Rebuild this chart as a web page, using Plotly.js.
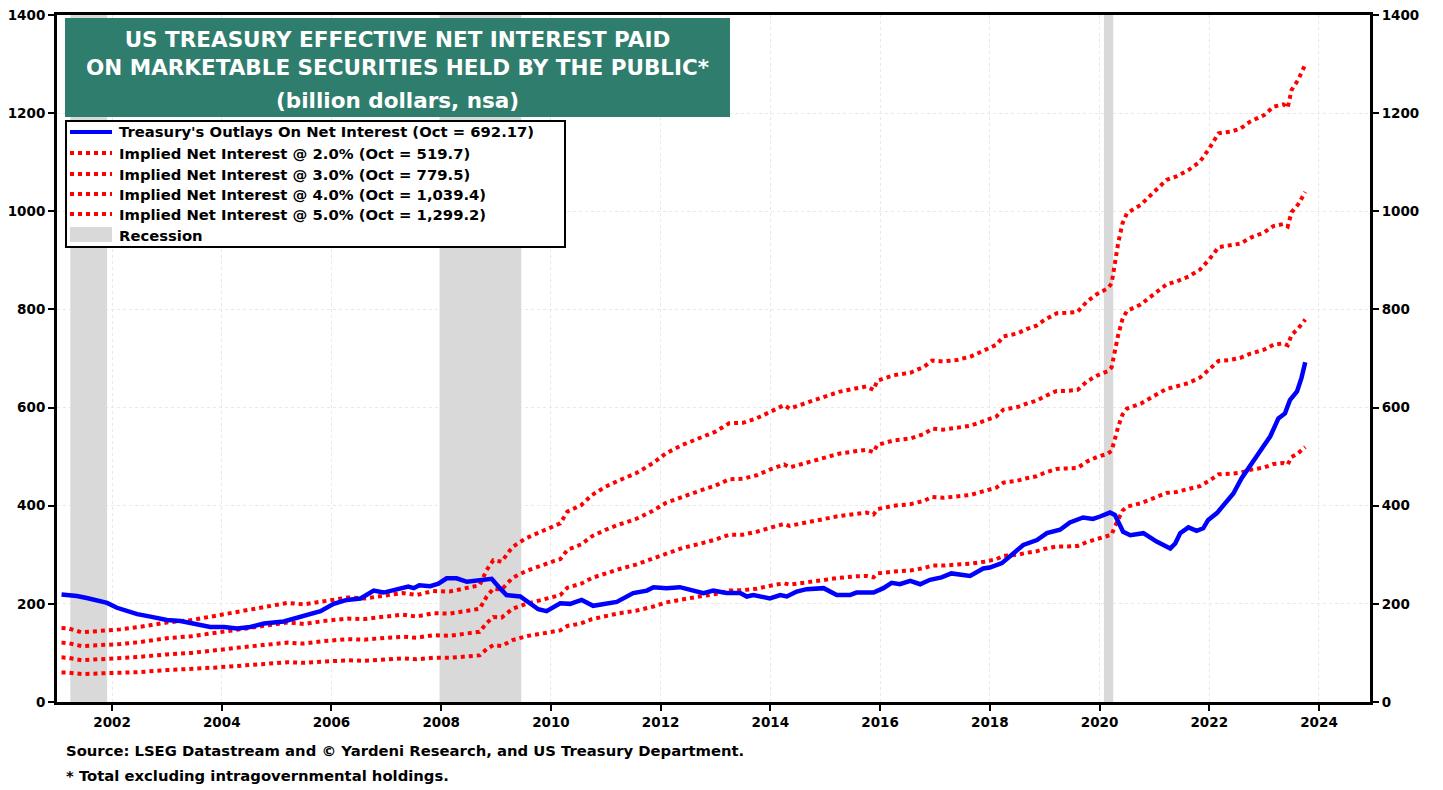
<!DOCTYPE html>
<html>
<head>
<meta charset="utf-8">
<script src="https://cdn.plot.ly/plotly-3.0.1.min.js"></script>
<style>
  html, body { margin: 0; padding: 0; background: #ffffff; }
  #chart { width: 1443px; height: 790px; }
</style>
</head>
<body>
<div id="chart"></div>
<script>
// ---- Data (x = decimal year) ----
const blueDates = [2001.08,2001.2,2001.36,2001.54,2001.75,2001.91,2002.09,2002.3,2002.46,2002.7,2003.0,2003.25,2003.49,2003.79,2004.04,2004.28,2004.52,2004.77,2005.13,2005.43,2005.8,2006.04,2006.28,2006.53,2006.77,2006.95,2007.2,2007.3,2007.4,2007.5,2007.6,2007.8,2007.95,2008.1,2008.28,2008.47,2008.71,2008.92,2009.07,2009.19,2009.44,2009.62,2009.77,2009.92,2010.17,2010.35,2010.56,2010.77,2010.96,2011.2,2011.5,2011.75,2011.87,2012.11,2012.35,2012.6,2012.78,2012.96,2013.2,2013.45,2013.57,2013.69,2013.99,2014.18,2014.3,2014.48,2014.66,2014.97,2015.21,2015.45,2015.57,2015.88,2016.06,2016.21,2016.36,2016.55,2016.73,2016.91,2017.12,2017.3,2017.49,2017.64,2017.88,2018.0,2018.22,2018.43,2018.61,2018.86,2019.04,2019.28,2019.46,2019.7,2019.88,2020.01,2020.19,2020.28,2020.43,2020.56,2020.8,2021.04,2021.16,2021.29,2021.38,2021.47,2021.62,2021.77,2021.89,2021.98,2022.14,2022.32,2022.44,2022.59,2022.74,2022.93,2023.11,2023.26,2023.38,2023.47,2023.6,2023.68,2023.75];
const outlays = [219,218,216,212,207,202,192,185,179,174,167,165,160,153,153,150,153,160,164,173,185,200,208,211,227,223,230,231,235,232,238,236,241,252,252,245,249,251,232,218,215,201,189,185,201,200,208,196,200,204,222,227,234,232,234,228,222,227,222,222,215,218,211,218,215,225,230,232,218,218,223,223,232,243,240,247,240,249,254,262,260,257,272,274,283,303,320,330,344,351,366,376,373,378,386,381,347,340,344,327,320,313,323,344,356,349,354,371,385,408,425,456,480,514,541,578,588,615,633,660,692.17];

const redDates = [2001.08,2001.2,2001.45,2001.85,2002.15,2002.5,2003.0,2003.45,2003.85,2004.1,2004.4,2004.75,2005.2,2005.5,2005.85,2006.3,2006.6,2006.9,2007.3,2007.55,2007.85,2008.15,2008.45,2008.7,2008.83,2008.95,2009.1,2009.3,2009.55,2009.8,2010.05,2010.17,2010.3,2010.55,2010.75,2011.0,2011.25,2011.55,2011.85,2012.1,2012.4,2012.7,2013.0,2013.25,2013.5,2013.75,2014.0,2014.25,2014.35,2014.65,2014.95,2015.25,2015.55,2015.75,2015.88,2015.95,2016.25,2016.55,2016.8,2016.95,2017.15,2017.4,2017.65,2017.9,2018.12,2018.25,2018.5,2018.67,2018.85,2019.0,2019.22,2019.4,2019.6,2019.77,2019.95,2020.15,2020.22,2020.28,2020.34,2020.42,2020.5,2020.75,2021.0,2021.22,2021.4,2021.62,2021.83,2022.0,2022.17,2022.38,2022.56,2022.75,2023.0,2023.17,2023.35,2023.43,2023.5,2023.62,2023.75];
const implied2 = [60,60,57,58,59,61,65,67,70,72,74,77,81,80,82,85,84,86,89,87,90,90,93,95,108,116,114,126,134,139,144,146,155,160,169,176,181,186,194,203,210,215,220,227,228,231,237,242,239,244,249,253,256,257,254,262,266,268,273,278,278,279,282,286,291,298,300,304,307,312,317,317,318,326,332,337,341,358,374,390,398,405,416,426,428,434,440,451,464,465,467,473,478,485,487,484,499,507,519.7];
const implied3 = [91,90,85,87,89,92,97,100,105,109,112,116,121,119,124,128,127,130,133,131,136,135,139,143,161,173,172,190,200,208,215,218,233,241,253,263,271,280,292,304,314,322,331,341,341,347,355,363,359,366,373,379,383,386,382,393,400,403,410,418,416,418,422,430,437,447,451,456,460,467,475,476,477,490,499,506,512,536,561,586,598,608,624,638,643,650,661,677,695,697,701,710,718,728,731,727,748,761,779.5];
const implied4 = [121,120,114,116,118,122,130,134,140,145,149,154,162,159,165,170,169,173,178,174,181,180,186,190,215,231,229,253,267,278,287,291,310,321,338,351,362,373,389,406,419,430,441,454,455,462,474,484,478,488,498,506,511,514,509,524,533,537,546,557,555,558,563,573,582,596,601,608,614,623,634,634,636,653,665,674,682,715,748,781,797,810,832,851,857,867,881,902,927,930,934,946,957,970,974,969,998,1014,1039.4];
const implied5 = [151,150,142,145,148,153,162,167,175,181,186,193,202,199,206,213,211,216,222,218,226,225,232,238,269,289,286,316,334,347,359,364,388,401,422,439,452,466,486,507,524,537,551,568,569,578,592,605,598,610,622,632,639,643,636,655,666,671,683,696,694,697,704,716,728,745,751,760,767,779,792,793,795,816,831,843,853,894,935,976,996,1013,1040,1064,1071,1084,1101,1128,1159,1162,1168,1183,1196,1213,1218,1211,1247,1268,1299.2];

const recessionStart = [2001.24, 2007.97, 2020.08];
const recessionEnd   = [2001.91, 2009.46, 2020.25];

const yTicks = [0,200,400,600,800,1000,1200,1400];
const xTicks = [2002,2004,2006,2008,2010,2012,2014,2016,2018,2020,2022,2024];

const seriesNames = [
  "Treasury's Outlays On Net Interest (Oct = 692.17)",
  "Implied Net Interest @ 2.0% (Oct = 519.7)",
  "Implied Net Interest @ 3.0% (Oct = 779.5)",
  "Implied Net Interest @ 4.0% (Oct = 1,039.4)",
  "Implied Net Interest @ 5.0% (Oct = 1,299.2)",
  "Recession"
];
const titleLines = [
  "US TREASURY EFFECTIVE NET INTEREST PAID",
  "ON MARKETABLE SECURITIES HELD BY THE PUBLIC*",
  "(billion dollars, nsa)"
];
const footLines = [
  "Source: LSEG Datastream and \u00A9 Yardeni Research, and US Treasury Department.",
  "* Total excluding intragovernmental holdings."
];

// ---- Styles ----
const FONT = "DejaVu Sans, Verdana, Arial, sans-serif";
const BLUE = '#0000ff', RED = '#ff0000', REC = '#d9d9d9', GRID = '#e8e8e8';
const Y_MAX = 1400;

// ---- Build traces ----
const recX = [], recY = [];
recessionStart.forEach((s, i) => {
  recX.push(s, s, recessionEnd[i], recessionEnd[i], s, null);
  recY.push(0, Y_MAX, Y_MAX, 0, 0, null);
});

const traces = [
  { x: recX, y: recY, type: 'scatter', mode: 'lines', fill: 'toself',
    fillcolor: REC, line: { width: 0, color: REC }, name: seriesNames[5], hoverinfo: 'skip' },
  { x: redDates, y: implied2, type: 'scatter', mode: 'lines', name: seriesNames[1],
    line: { color: RED, width: 4, dash: 'dot' } },
  { x: redDates, y: implied3, type: 'scatter', mode: 'lines', name: seriesNames[2],
    line: { color: RED, width: 4, dash: 'dot' } },
  { x: redDates, y: implied4, type: 'scatter', mode: 'lines', name: seriesNames[3],
    line: { color: RED, width: 4, dash: 'dot' } },
  { x: redDates, y: implied5, type: 'scatter', mode: 'lines', name: seriesNames[4],
    line: { color: RED, width: 4, dash: 'dot' } },
  { x: blueDates, y: outlays, type: 'scatter', mode: 'lines', name: seriesNames[0],
    line: { color: BLUE, width: 4.5 } },
  { x: blueDates, y: outlays, type: 'scatter', mode: 'lines', yaxis: 'y2',
    line: { width: 0, color: 'rgba(0,0,0,0)' }, showlegend: false, hoverinfo: 'skip' }
];

// plot area pixel box: left 57, right 1370, top 15, bottom 702
const W = 1443, H = 790, L = 57, R = 73, T = 15, B = 88;
const pw = W - L - R, ph = H - T - B;
const px2paperX = p => (p - L) / pw;
const py2paperY = p => (H - B - p) / ph;

const axisFont = { family: FONT, size: 13.5, color: '#000000', weight: 'bold' };
const legendFont = { family: FONT, size: 14.8, color: '#000000', weight: 'bold' };
const titleFont = { family: FONT, size: 21.5, color: '#ffffff', weight: 'bold' };

// ---- Title box, legend box (drawn as shapes + text) ----
const legendRows = [132, 153, 174, 194, 214, 235];
const legendStyles = [
  { color: BLUE, dash: 'solid' }, { color: RED, dash: 'dot' }, { color: RED, dash: 'dot' },
  { color: RED, dash: 'dot' }, { color: RED, dash: 'dot' }, null
];
const shapes = [
  { type: 'rect', xref: 'paper', yref: 'paper',
    x0: px2paperX(65), x1: px2paperX(730), y0: py2paperY(18), y1: py2paperY(117),
    fillcolor: '#2f7d6d', line: { width: 0 }, layer: 'above' },
  { type: 'rect', xref: 'paper', yref: 'paper',
    x0: px2paperX(66), x1: px2paperX(565), y0: py2paperY(121), y1: py2paperY(247),
    fillcolor: '#ffffff', line: { color: '#000000', width: 2 }, layer: 'above' }
];
const annotations = [
  { text: titleLines[2], xref: 'paper', yref: 'paper', x: px2paperX(397.5),
    y: py2paperY(100), xanchor: 'center', yanchor: 'middle', showarrow: false, font: titleFont }
];
legendRows.forEach((py, i) => {
  const st = legendStyles[i];
  if (st) {
    shapes.push({ type: 'line', xref: 'paper', yref: 'paper',
      x0: px2paperX(70), x1: px2paperX(112), y0: py2paperY(py), y1: py2paperY(py),
      line: { color: st.color, width: 4, dash: st.dash }, layer: 'above' });
  } else {
    shapes.push({ type: 'rect', xref: 'paper', yref: 'paper',
      x0: px2paperX(70), x1: px2paperX(112), y0: py2paperY(py - 8), y1: py2paperY(py + 7),
      fillcolor: REC, line: { width: 0 }, layer: 'above' });
  }
  annotations.push({ text: seriesNames[i], xref: 'paper', yref: 'paper',
    x: px2paperX(117), y: py2paperY(py), xanchor: 'left', yanchor: 'middle',
    showarrow: false, font: legendFont });
});
footLines.forEach((t, i) => {
  annotations.push({ text: t, xref: 'paper', yref: 'paper', x: px2paperX(64),
    y: py2paperY(750 + 25 * i), xanchor: 'left', yanchor: 'middle', showarrow: false,
    font: legendFont });
});

const layout = {
  width: W, height: H,
  margin: { l: L, r: R, t: T, b: B, pad: 0 },
  paper_bgcolor: '#ffffff', plot_bgcolor: '#ffffff',
  showlegend: false,
  title: {
    text: titleLines[0] + '<br>' + titleLines[1],
    font: titleFont,
    x: 397.5 / W, xanchor: 'center', xref: 'container',
    y: 1 - 47 / H, yanchor: 'top', yref: 'container'
  },
  xaxis: {
    range: [2000.997, 2024.93], type: 'linear',
    tickvals: xTicks, ticktext: xTicks.map(String),
    ticks: 'outside', ticklen: 6, tickwidth: 2, tickcolor: '#000',
    showline: true, linecolor: '#000', linewidth: 3, mirror: true,
    showgrid: true, gridcolor: GRID, griddash: 'dot', gridwidth: 1,
    zeroline: false, tickfont: axisFont, fixedrange: true
  },
  yaxis: {
    range: [0, Y_MAX], tickvals: yTicks, ticktext: yTicks.map(String),
    ticks: 'outside', ticklen: 6, tickwidth: 2, tickcolor: '#000',
    showline: true, linecolor: '#000', linewidth: 3, mirror: true,
    showgrid: true, gridcolor: GRID, griddash: 'dot', gridwidth: 1,
    zeroline: false, tickfont: axisFont, fixedrange: true
  },
  yaxis2: {
    range: [0, Y_MAX], overlaying: 'y', side: 'right',
    tickvals: yTicks, ticktext: yTicks.map(String),
    ticks: 'outside', ticklen: 6, tickwidth: 2, tickcolor: '#000',
    showline: true, linecolor: '#000', linewidth: 3,
    showgrid: false, zeroline: false, tickfont: axisFont, fixedrange: true
  },
  shapes: shapes,
  annotations: annotations
};

Plotly.newPlot('chart', traces, layout, { displayModeBar: false, staticPlot: true });
</script>
</body>
</html>
